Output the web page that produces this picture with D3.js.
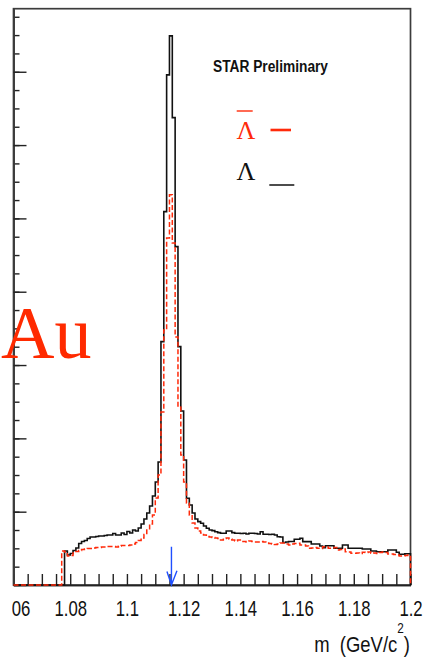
<!DOCTYPE html>
<html>
<head>
<meta charset="utf-8">
<script src="https://cdn.jsdelivr.net/npm/d3@7"></script>
<style>
  html, body { margin: 0; padding: 0; background: #fff; }
  svg { display: block; }
</style>
</head>
<body>
<svg id="chart" width="425" height="660"></svg>
<script>
// Invariant-mass histograms, 1 MeV bins from 1.06 to 1.20 GeV/c^2
const binLow = 1.06;
const binWidth = 0.001;

// Lambda candidates (counts per bin)
const lambdaCounts = [
  0, 0, 0, 0, 0, 0, 0, 0, 0, 0, 0, 0, 0, 0, 0, 0, 0, 0,
  464, 409, 430, 471, 505, 566, 593, 607, 634, 655,
  655, 662, 669, 669, 675, 682, 682, 703, 682, 682,
  709, 689, 730, 709, 750, 737, 778, 832, 900, 982,
  1078, 1214, 1405, 1678, 3319, 5093, 6958, 7490, 6375, 4615,
  3251, 2374, 1705, 1183, 1091, 982, 900, 864, 842, 805,
  774, 750, 741, 727, 714, 705, 705, 737, 737, 714,
  705, 705, 703, 705, 696, 705, 705, 703, 696, 727,
  692, 692, 689, 692, 682, 659, 655, 580, 587, 593,
  593, 623, 623, 637, 591, 591, 591, 559, 559, 559,
  532, 509, 536, 536, 536, 501, 501, 501, 546, 546,
  501, 501, 501, 501, 501, 491, 491, 491, 464, 464,
  454, 454, 454, 454, 478, 478, 478, 446, 419, 419,
  427, 427
];

// Anti-Lambda candidates (counts per bin)
const antiLambdaCounts = [
  0, 0, 0, 0, 0, 0, 0, 0, 0, 0, 0, 0, 0, 0, 0, 0, 0,
  464,
  450, 396, 402, 437, 457, 471, 484, 491, 498, 498,
  505, 512, 512, 518, 518, 525, 525, 525, 518, 532,
  539, 539, 539, 546, 559, 580, 607, 641, 689, 750,
  832, 955, 1187, 1501, 2360, 3479, 4734, 5321, 4666, 3383,
  2428, 1774, 1405, 1119, 955, 846, 778, 737, 709, 682,
  662, 655, 648, 641, 634, 614, 634, 641, 628, 614,
  600, 614, 593, 593, 587, 600, 593, 587, 587, 593,
  587, 573, 566, 559, 553, 559, 573, 573, 559, 546,
  559, 566, 569, 546, 546, 532, 501, 505, 512, 501,
  498, 523, 518, 501, 505, 512, 478, 484, 491, 454,
  450, 432, 432, 437, 430, 446, 443, 450, 432, 437,
  430, 443, 450, 443, 423, 423, 416, 409, 396, 396,
  402, 409
];

const xMajorTicks = [1.06, 1.08, 1.10, 1.12, 1.14, 1.16, 1.18, 1.20];
const xTickLabels = ["1.06", "1.08", "1.1", "1.12", "1.14", "1.16", "1.18", "1.2"];
const xMinorStep = 0.005;
const yMajorStep = 1000;
const yMinorStep = 250;
const yTop = 7860;
const lambdaMass = 1.1157;

const svg = d3.select("#chart");
const W = 425, H = 660;
const plot = { left: 13.5, right: 410.5, top: 8.7, bottom: 585 };

const x = d3.scaleLinear().domain([1.06, 1.20]).range([plot.left, plot.right]);
const y = d3.scaleLinear().domain([0, yTop]).range([plot.bottom, plot.top]);

svg.append("rect").attr("width", W).attr("height", H).attr("fill", "#fff");

// The pad area ends a little left of the frame; labels are clipped there
svg.append("defs").append("clipPath").attr("id", "pad-clip")
  .append("rect").attr("x", 12).attr("y", 0).attr("width", W - 12).attr("height", H);

// Frame
svg.append("rect")
  .attr("x", plot.left).attr("y", plot.top)
  .attr("width", plot.right - plot.left).attr("height", plot.bottom - plot.top)
  .attr("fill", "none").attr("stroke", "#3c3c3c").attr("stroke-width", 1.7);

// X axis: minor and major ticks pointing inward
const xMinor = d3.range(1.06, 1.2 + 1e-9, xMinorStep).map(v => +v.toFixed(3));
const xAxisMinor = svg.append("g").attr("transform", `translate(0,${plot.bottom})`)
  .call(d3.axisBottom(x).tickValues(xMinor).tickSize(-11).tickSizeOuter(0).tickFormat(""));
const xAxisMajor = svg.append("g").attr("transform", `translate(0,${plot.bottom})`)
  .attr("clip-path", "url(#pad-clip)")
  .call(d3.axisBottom(x).tickValues(xMajorTicks).tickSize(-18).tickSizeOuter(0)
    .tickFormat((d, i) => xTickLabels[i]));
[xAxisMinor, xAxisMajor].forEach(g => {
  g.select(".domain").attr("stroke", "#222").attr("stroke-width", 1.7);
  g.selectAll(".tick line").attr("stroke", "#222").attr("stroke-width", 1.4);
});
xAxisMajor.selectAll(".tick text")
  .attr("y", 31.5).attr("dy", null)
  .attr("transform", "scale(0.76,1)")
  .attr("font-family", "'Liberation Sans', Arial, sans-serif")
  .attr("font-size", 22).attr("fill", "#111");

// Y axis: ticks only
const yMinor = d3.range(0, yTop, yMinorStep);
const yMajor = d3.range(0, yTop, yMajorStep);
const yAxisMinor = svg.append("g").attr("transform", `translate(${plot.left},0)`)
  .call(d3.axisLeft(y).tickValues(yMinor).tickSize(-6).tickSizeOuter(0).tickFormat(""));
const yAxisMajor = svg.append("g").attr("transform", `translate(${plot.left},0)`)
  .call(d3.axisLeft(y).tickValues(yMajor).tickSize(-13).tickSizeOuter(0).tickFormat(""));
[yAxisMinor, yAxisMajor].forEach(g => {
  g.select(".domain").attr("stroke", "#3c3c3c").attr("stroke-width", 1.7);
  g.selectAll(".tick line").attr("stroke", "#222").attr("stroke-width", 1.4);
});

// Step outline of a histogram, closed down to zero at both ends
function histPoints(counts) {
  const pts = [[binLow, 0]];
  counts.forEach((c, k) => pts.push([binLow + k * binWidth, c]));
  const n = counts.length;
  pts.push([binLow + n * binWidth, counts[n - 1]]);
  pts.push([binLow + n * binWidth, 0]);
  return pts;
}
const stepLine = d3.line()
  .x(d => x(d[0])).y(d => y(d[1]))
  .curve(d3.curveStepAfter);

svg.append("path")
  .attr("d", stepLine(histPoints(lambdaCounts)))
  .attr("fill", "none").attr("stroke", "#111").attr("stroke-width", 1.6);

svg.append("path")
  .attr("d", stepLine(histPoints(antiLambdaCounts)))
  .attr("fill", "none").attr("stroke", "#ff2a0a").attr("stroke-width", 1.5)
  .attr("stroke-dasharray", "5,2.5");

// Arrow at the nominal Lambda mass
const xm = x(lambdaMass);
svg.append("path")
  .attr("d", `M${xm},546.7 L${xm},${plot.bottom} M${xm - 4.5},571.5 L${xm},${plot.bottom} L${xm + 5.5},570.7`)
  .attr("fill", "none").attr("stroke", "#1f4fff").attr("stroke-width", 1.4);

// Header text
svg.append("text")
  .attr("x", 213).attr("y", 72)
  .attr("textLength", 115).attr("lengthAdjust", "spacingAndGlyphs")
  .attr("font-family", "'Liberation Sans', Arial, sans-serif")
  .attr("font-weight", "bold").attr("font-size", 16).attr("fill", "#111")
  .text("STAR Preliminary");

// Legend
const legend = svg.append("g");
legend.append("text")
  .attr("x", 236.5).attr("y", 138.5)
  .attr("font-family", "'Liberation Serif', 'Times New Roman', serif")
  .attr("font-size", 26).attr("fill", "#ff2a0a")
  .text("Λ");
legend.append("line")
  .attr("x1", 236.7).attr("x2", 252.7).attr("y1", 111).attr("y2", 111)
  .attr("stroke", "#ff2a0a").attr("stroke-width", 1.4);
legend.append("line")
  .attr("x1", 270.5).attr("x2", 291).attr("y1", 130).attr("y2", 130)
  .attr("stroke", "#ff2a0a").attr("stroke-width", 2.6);
legend.append("text")
  .attr("x", 236.5).attr("y", 180)
  .attr("font-family", "'Liberation Serif', 'Times New Roman', serif")
  .attr("font-size", 26).attr("fill", "#111")
  .text("Λ");
legend.append("line")
  .attr("x1", 269.3).attr("x2", 294.3).attr("y1", 185).attr("y2", 185)
  .attr("stroke", "#111").attr("stroke-width", 1.5);

// Axis title
const title = svg.append("text")
  .attr("transform", `translate(410,652) scale(0.84,1)`)
  .attr("text-anchor", "end")
  .attr("font-family", "'Liberation Sans', Arial, sans-serif")
  .attr("font-size", 22).attr("fill", "#111");
title.append("tspan").text("m\u00a0\u00a0(GeV/c");
title.append("tspan").attr("font-size", 14).attr("dy", -19).text("2");
title.append("tspan").attr("dy", 19).text(")");

// Big overlay label
svg.append("text")
  .attr("x", 1).attr("y", 358)
  .attr("font-family", "'Liberation Serif', 'Times New Roman', serif")
  .attr("font-size", 74).attr("fill", "#ff2a00")
  .text("Au");
</script>
</body>
</html>
